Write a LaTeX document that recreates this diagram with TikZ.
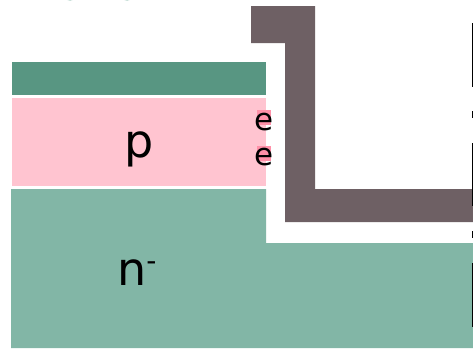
\documentclass[tikz,border=0pt]{standalone}
\usepackage{fontspec}
\setmainfont{DejaVu Sans}
\definecolor{oxide}{RGB}{88,150,130}
\definecolor{nregion}{RGB}{130,182,166}
\definecolor{pregion}{RGB}{255,196,208}
\definecolor{metal}{RGB}{110,96,100}
\definecolor{emark}{RGB}{255,144,168}
\begin{document}
\begin{tikzpicture}[x=1pt,y=-1pt,
  biglabel/.style={font=\fontsize{46}{46}\selectfont, inner sep=0pt},
  elabel/.style={font=\fontsize{31}{31}\selectfont, inner sep=0pt, anchor=base},
  edgebar/.style={fill=black}]
\useasboundingbox (0,0) rectangle (473,348);
\clip (0,0) rectangle (473,348);
\fill[white] (0,0) rectangle (473,348);

% small marks peeking in at the top edge
\fill[nregion] (70,-9) circle (9.5);
\fill[nregion] (127,-9) circle (9.5);

% n- substrate with its stepped top
\fill[nregion] (11,189) -- (266,189) -- (266,243) -- (473,243)
  -- (473,348) -- (11,348) -- cycle;

% p layer and top oxide layer
\fill[pregion] (12,98) rectangle (266,186);
\fill[oxide] (12,62) rectangle (266,95);

% metal contact
\fill[metal] (251,6) -- (315,6) -- (315,189) -- (473,189) -- (473,222)
  -- (285,222) -- (285,43) -- (251,43) -- cycle;

% highlighted electrons at the p-layer edge
\fill[emark] (257,110) rectangle (271,125);
\fill[emark] (257,146) rectangle (271,161);
\node[elabel] (e1) at (264,130) {e};
\node[elabel] (e2) at (264,165) {e};

% region labels
\node[biglabel, anchor=base] (p) at (139,157) {p};
\node[biglabel, anchor=base west] (n) at (117,285)
  {n\raisebox{14.5pt}{\fontsize{28}{28}\selectfont -}};

% stems of text cut off at the right edge
\fill[edgebar] (471.5,23) rectangle (473,87);
\fill[edgebar] (471.5,111) rectangle (473,118);
\fill[edgebar] (471.5,143) rectangle (473,206);
\fill[edgebar] (471.5,231) rectangle (473,238);
\fill[edgebar] (471.5,263) rectangle (473,327);
\end{tikzpicture}
\end{document}
